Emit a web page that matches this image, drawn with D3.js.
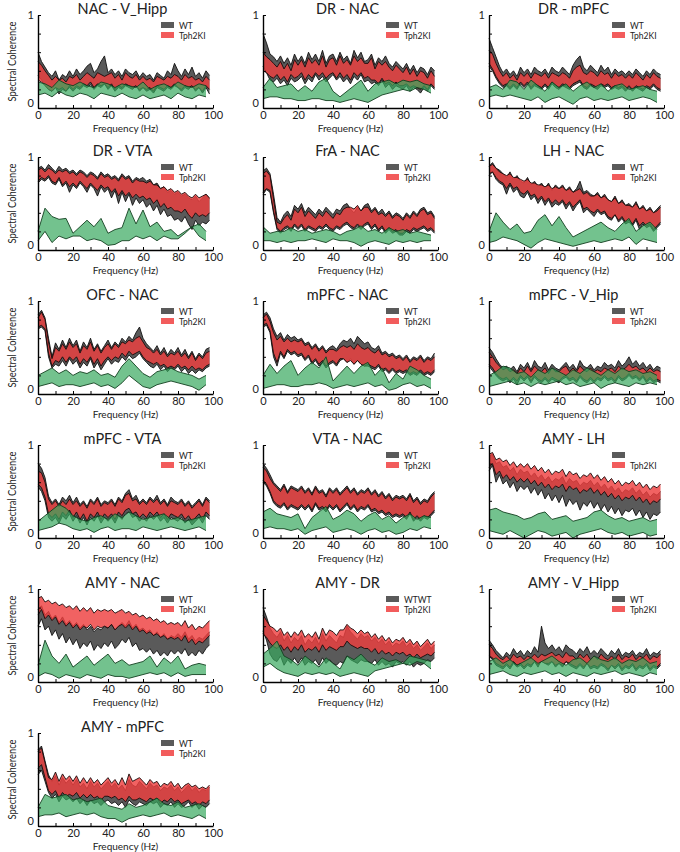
<!DOCTYPE html>
<html><head><meta charset="utf-8">
<script src="https://cdn.jsdelivr.net/npm/d3@7"></script>
<style>body{margin:0;background:#fff} text{font-family:Lato,"Open Sans",sans-serif;fill:#222}</style>
</head><body>
<script>
// ---------------- DATA ----------------
const titles = ["NAC - V_Hipp","DR - NAC","DR - mPFC","DR - VTA","FrA - NAC","LH - NAC",
  "OFC - NAC","mPFC - NAC","mPFC - V_Hip","mPFC - VTA","VTA - NAC","AMY - LH",
  "AMY - NAC","AMY - DR","AMY - V_Hipp","AMY - mPFC"];
const legendWT = ["WT","WT","WT","WT","WT","WT","WT","WT","WT","WT","WT","","WT","WTWT","WT","WT"];
const legendKI = "Tph2KI";
const freqFine = [0,2,4,6,8,10,12,14,16,18,20,22,24,26,28,30,32,34,36,38,40,42,44,46,48,50,52,54,56,58,
  60,62,64,66,68,70,72,74,76,78,80,82,84,86,88,90,92,94,96,98];
const freqCoarse = [0,4,8,12,16,20,24,28,32,36,40,44,48,52,56,60,64,68,72,76,80,84,88,92,96];
const xTicks = [0,10,20,30,40,50,60,70,80,90,100];
const xTickLabels = ["0","","20","","40","","60","","80","","100"];
const yTicks = [0,20,40,60,80,100];
const yTickLabels = ["0","","","","","1"];
const xLabel = "Frequency (Hz)";
const yLabel = "Spectral Coherence";

// coherence values in percent (0-100)
const wtUpper = [
 [60,50,44,38,34,40,30,36,33,40, 34,42,36,40,45,48,38,42,50,56, 38,42,36,40,34,42,38,36,40,33, 38,34,36,30,38,35,32,40,36,48, 40,34,42,36,44,34,38,32,40,35],
 [80,70,58,55,50,56,48,54,46,58, 50,56,48,60,52,58,50,62,48,56, 58,50,60,52,56,48,62,54,60,50, 52,58,46,54,50,56,48,44,50,46, 42,48,40,46,38,44,42,36,44,40],
 [75,65,55,45,38,42,36,40,34,44, 38,42,36,44,40,38,42,36,44,40, 38,44,40,36,46,52,56,44,40,46, 42,38,46,40,44,36,42,38,40,36, 40,36,42,38,34,40,36,42,38,36],
 [88,90,86,92,88,84,90,86,88,84, 86,82,86,84,80,84,82,78,84,80, 82,78,80,76,82,78,80,74,78,76, 78,74,76,70,72,66,68,62,64,60, 62,58,60,56,54,58,52,56,60,55],
 [85,88,82,60,35,30,38,42,36,48, 44,50,40,46,42,38,44,40,46,42, 38,44,42,48,50,44,40,46,42,48, 50,42,46,40,44,38,42,36,40,38, 34,40,36,42,38,44,46,40,42,36],
 [90,94,88,86,82,78,84,76,80,74, 72,78,70,74,68,72,66,72,64,70, 66,70,64,68,62,66,74,62,64,60, 58,62,56,60,54,52,58,50,54,48, 50,46,52,44,48,42,46,40,44,48],
 [85,90,82,60,40,55,48,58,50,60, 52,58,46,56,50,60,48,54,46,52, 58,50,56,52,60,56,62,58,66,72, 60,54,50,46,52,44,50,42,48,44, 50,42,48,40,46,38,44,40,48,50],
 [85,88,82,70,62,66,58,64,60,62, 58,60,54,56,50,54,48,52,46,50, 52,48,54,58,56,60,54,62,58,54, 56,50,48,52,44,46,42,44,40,42, 38,42,36,40,38,42,36,40,38,44],
 [50,45,38,32,28,30,26,30,24,32, 28,34,26,36,30,28,34,26,32,28, 26,30,34,28,32,26,36,30,28,32, 26,30,28,34,30,32,28,36,30,34, 40,32,36,30,34,28,32,26,30,28],
 [80,75,65,45,38,42,36,44,40,46, 38,44,36,40,34,42,38,44,36,40, 38,42,36,44,40,48,52,42,46,38, 42,38,44,40,46,38,42,36,44,40, 38,42,36,40,34,38,42,36,44,40],
 [80,75,68,60,56,52,58,50,56,54, 52,56,50,54,48,56,50,52,46,54, 50,54,48,52,56,50,54,48,52,50, 54,48,52,46,50,44,48,42,46,44, 46,42,48,40,44,38,42,40,46,50],
 [88,90,80,82,76,78,72,76,68,74, 70,72,66,70,64,68,62,66,60,64, 62,66,58,64,60,62,56,60,58,62, 56,60,54,58,52,56,50,54,48,52, 50,54,48,52,46,50,44,48,46,50],
 [78,82,72,76,68,72,64,70,62,66, 60,64,58,62,56,60,54,58,56,60, 58,62,56,60,64,60,66,58,62,56, 58,54,56,50,54,48,52,46,50,48, 52,48,54,46,50,44,48,46,50,54],
 [80,70,58,52,48,54,44,50,42,48, 44,50,40,46,42,48,40,52,44,50, 46,42,50,48,60,54,50,46,52,48, 50,44,48,42,46,40,44,38,42,40, 44,38,42,36,40,34,38,42,36,40],
 [45,40,34,30,26,32,28,36,30,34, 28,34,30,38,32,60,42,36,40,34, 38,32,40,36,34,30,36,32,38,30, 34,30,36,32,28,34,30,36,28,32, 30,34,28,32,30,36,28,32,30,34],
 [82,86,70,55,48,54,44,52,46,50, 44,50,42,46,40,48,42,46,40,44, 48,42,46,40,44,38,50,44,42,48, 44,40,46,42,44,38,42,40,44,38, 42,36,40,44,38,42,36,40,38,42]
];
const wtLower = [
 [35,30,25,20,18,22,15,20,18,22, 18,22,20,24,22,25,20,24,22,26, 20,24,18,22,20,24,22,20,24,18, 22,18,20,16,22,20,18,22,20,24, 22,18,22,20,24,18,22,16,22,15],
 [45,38,30,28,32,26,30,24,32,28, 30,34,26,32,28,36,30,34,28,32, 36,30,34,28,32,26,34,30,36,28, 30,26,28,24,30,22,26,20,24,22, 20,24,18,22,20,16,22,18,24,20],
 [45,40,32,26,22,24,20,24,20,26, 22,26,20,24,22,20,24,20,26,22, 20,24,22,20,24,26,28,22,20,24, 22,20,24,22,24,20,22,20,22,18, 22,18,22,20,18,22,20,24,20,18],
 [72,76,74,78,72,70,76,68,72,62, 70,66,72,68,62,70,66,58,68,62, 66,56,64,50,62,52,60,48,56,50, 54,46,50,42,48,38,44,36,38,32, 34,30,36,28,22,32,26,30,28,32],
 [60,65,62,40,22,18,22,24,20,26, 22,26,20,24,22,20,24,22,26,22, 20,24,22,26,28,24,22,26,22,26, 28,22,26,20,24,18,22,18,20,16, 16,20,18,22,20,22,24,20,22,18],
 [80,84,76,72,70,60,70,62,66,58, 56,62,54,58,50,56,48,54,46,50, 48,52,44,50,42,48,52,40,44,40, 36,42,38,40,34,32,38,30,34,28, 30,26,32,22,28,24,26,20,24,28],
 [70,72,68,40,28,32,30,36,30,38, 32,36,28,34,30,38,28,34,26,32, 38,32,36,34,40,36,42,38,40,44, 38,34,30,28,32,26,30,24,28,26, 30,24,28,22,26,22,26,24,28,30],
 [72,74,66,40,30,44,38,46,42,44, 40,42,36,40,32,36,30,34,28,32, 34,30,36,38,34,38,32,36,32,30, 30,28,26,30,24,26,22,26,22,24, 22,24,20,22,20,24,20,22,20,24],
 [30,25,20,16,14,16,12,16,10,18, 14,18,12,18,14,12,16,12,16,14, 12,16,18,14,16,12,18,14,12,16, 12,16,14,18,14,16,12,18,14,16, 20,16,18,14,18,12,16,12,14,12],
 [55,50,40,22,18,22,16,24,20,26, 18,24,16,22,14,22,18,24,16,22, 18,22,16,24,20,26,28,22,24,18, 22,18,24,20,24,18,22,16,22,20, 18,22,16,20,14,18,22,16,24,20],
 [60,56,48,38,34,32,36,30,34,32, 30,34,30,34,28,36,30,32,28,34, 30,34,28,32,36,30,34,28,32,30, 34,28,30,26,28,24,26,22,24,22, 24,20,26,18,22,18,22,20,24,28],
 [72,78,60,68,58,62,54,60,50,56, 52,56,48,54,46,52,42,48,40,46, 38,46,34,42,36,40,30,38,34,40, 32,38,30,36,28,34,26,32,24,30, 28,32,24,30,22,28,20,26,24,28],
 [60,68,56,60,50,56,46,52,42,48, 40,46,36,42,38,44,34,40,36,42, 38,44,36,40,46,42,48,38,42,34, 36,32,36,30,34,28,32,28,34,30, 34,30,36,28,32,28,34,30,36,40],
 [55,45,30,24,22,28,18,24,20,26, 20,26,18,22,20,24,18,26,20,24, 20,18,22,20,28,24,22,20,24,22, 22,20,24,18,22,18,20,16,22,20, 22,18,22,16,20,18,20,24,22,26],
 [28,24,18,16,14,18,14,20,16,18, 14,18,16,22,16,24,20,18,22,16, 20,16,22,18,16,14,18,14,20,14, 16,14,18,16,12,18,14,18,12,16, 14,18,12,16,14,18,12,16,14,18],
 [55,60,48,36,30,34,26,32,28,30, 26,30,24,28,22,28,24,26,22,26, 28,24,26,22,26,20,28,24,22,26, 24,22,26,24,26,20,24,22,26,20, 24,20,22,26,20,24,18,22,20,24]
];
const kiUpper = [
 [50,46,40,35,30,34,30,32,28,34, 32,36,30,34,38,35,32,38,36,34, 36,38,32,36,30,38,34,32,36,30, 34,30,32,28,34,32,30,34,32,36, 34,30,36,32,34,30,32,28,34,30],
 [60,55,52,48,44,50,42,48,40,52, 46,52,44,54,48,52,46,56,44,52, 54,46,56,48,52,46,56,50,54,48, 48,54,42,50,46,50,44,40,46,42, 38,44,36,42,34,40,38,32,40,34],
 [62,58,48,40,34,38,32,36,30,38, 34,38,32,38,36,34,38,32,38,36, 34,38,36,32,40,44,46,38,36,40, 38,34,40,36,38,32,38,34,36,32, 36,32,38,34,30,36,32,38,34,32],
 [86,88,84,88,86,82,86,84,86,82, 84,80,84,82,78,82,80,76,82,78, 80,76,78,74,80,76,78,72,76,74, 74,72,74,70,70,66,68,64,66,62, 64,60,62,58,56,60,56,58,60,56],
 [82,85,80,55,30,28,34,38,32,44, 40,46,36,42,38,34,40,36,42,38, 34,40,38,44,46,46,44,48,42,46, 46,40,44,38,40,36,40,34,38,36, 32,38,34,40,36,42,44,38,40,34],
 [90,92,88,84,82,80,82,78,78,76, 74,76,72,72,70,70,68,70,66,68, 66,68,64,66,62,64,66,60,62,58, 58,60,56,58,54,52,56,50,52,48, 48,46,50,44,46,42,44,40,42,46],
 [82,88,80,56,38,50,46,54,48,56, 50,54,44,52,48,56,46,52,44,50, 54,48,54,50,56,54,58,56,60,62, 56,50,48,44,48,42,46,40,44,42, 46,40,44,38,44,36,42,38,44,46],
 [82,86,78,66,58,62,56,60,56,58, 56,58,52,54,48,52,46,50,44,48, 48,46,50,52,50,52,48,54,50,48, 50,46,44,48,42,44,40,42,38,40, 36,40,34,38,36,40,34,38,36,40],
 [45,40,34,30,26,28,24,26,22,28, 24,30,24,30,26,24,28,22,28,24, 24,28,30,24,28,24,30,26,24,28, 24,26,24,28,26,28,24,30,26,28, 32,28,30,26,28,24,28,24,26,24],
 [72,70,60,42,36,40,34,40,36,42, 36,40,34,38,32,40,36,42,34,38, 36,40,34,42,38,46,48,40,42,36, 40,36,42,38,42,36,40,34,40,38, 36,40,34,38,32,36,40,34,42,38],
 [76,72,64,58,54,50,56,48,54,52, 50,54,48,52,46,54,48,50,44,52, 48,52,46,50,54,48,52,46,50,48, 52,46,50,44,48,42,46,40,44,42, 44,40,46,38,42,36,40,38,44,48],
 [90,92,84,86,82,84,78,82,76,80, 76,80,74,78,72,76,70,74,68,72, 70,74,66,72,68,70,64,68,66,70, 64,68,62,66,60,64,58,62,56,60, 58,62,56,60,54,58,52,56,54,58],
 [90,92,86,88,84,86,82,84,80,82, 78,82,76,80,76,80,74,78,76,78, 76,78,74,76,78,74,76,72,74,70, 72,68,70,66,68,64,66,62,64,62, 64,60,66,58,62,56,60,58,62,66],
 [72,66,60,58,54,58,50,54,48,54, 50,56,48,52,48,54,46,58,50,56, 54,50,56,56,62,58,56,52,56,52, 54,48,52,46,50,44,48,42,46,44, 48,42,46,40,44,38,42,46,40,44],
 [40,36,30,26,24,28,24,30,26,28, 24,28,26,30,26,30,28,30,32,28, 30,26,32,28,28,24,30,26,30,24, 28,24,30,26,24,28,24,30,24,28, 26,30,24,28,26,30,24,28,26,30],
 [80,84,68,52,50,58,48,56,50,54, 48,54,46,52,46,52,46,50,44,48, 52,46,50,44,52,44,56,48,50,52, 48,44,50,46,48,42,46,44,48,42, 46,40,44,46,42,44,40,42,40,44]
];
const kiLower = [
 [30,28,24,20,18,22,20,22,18,24, 20,24,22,26,24,28,22,26,24,26, 22,26,20,24,22,26,24,22,24,20, 22,20,22,18,24,22,20,24,22,26, 22,20,24,22,24,20,22,18,24,20],
 [40,38,34,32,36,30,34,28,36,32, 34,38,30,36,32,38,34,38,32,36, 38,32,38,32,36,30,38,34,38,32, 34,30,30,26,32,26,28,24,28,24, 24,26,22,24,22,20,24,20,26,22],
 [48,42,34,28,24,26,22,26,22,28, 24,28,22,26,24,22,26,22,28,24, 22,26,24,22,26,28,30,24,22,26, 24,22,26,24,26,22,24,22,24,20, 24,20,24,22,20,24,22,26,22,20],
 [74,78,76,80,74,72,78,70,74,68, 72,68,74,70,66,72,68,64,70,66, 68,62,66,58,64,58,62,56,60,56, 58,54,56,50,54,46,50,44,46,42, 42,40,44,38,34,40,36,38,36,40],
 [62,66,64,42,24,20,24,26,22,28, 24,28,22,26,24,22,26,24,28,24, 22,26,24,28,30,26,24,28,24,28, 30,24,28,22,26,20,24,20,22,18, 18,22,20,24,22,24,26,22,24,20],
 [82,84,78,74,72,66,72,66,68,62, 60,64,58,60,54,58,52,56,50,54, 50,54,48,52,46,50,54,44,46,42, 40,44,40,42,36,34,38,32,36,30, 32,28,34,26,30,26,28,22,26,30],
 [72,74,70,44,30,36,34,40,34,40, 36,40,32,38,34,40,32,38,30,36, 40,36,40,38,44,40,46,42,44,46, 40,36,34,32,34,30,32,28,30,28, 32,28,30,26,30,26,28,26,30,32],
 [74,76,68,44,34,46,40,48,44,46, 42,44,38,42,34,38,32,36,30,34, 36,32,38,38,34,36,32,36,32,30, 32,30,28,32,26,28,24,28,24,26, 24,26,22,24,22,26,22,24,22,26],
 [32,28,22,18,16,18,14,18,14,20, 16,20,14,20,16,14,18,14,18,16, 14,18,20,16,18,14,20,16,14,18, 14,18,16,20,16,18,14,20,16,18, 22,18,20,16,20,14,18,14,16,14],
 [58,54,44,26,22,26,20,28,24,30, 22,28,20,26,18,26,22,28,20,26, 22,26,20,28,24,30,32,26,28,22, 26,22,28,24,28,22,26,20,26,24, 22,26,20,24,18,22,26,20,28,24],
 [62,58,50,40,36,34,38,32,36,34, 32,36,32,36,30,38,32,34,30,36, 32,36,30,34,38,32,36,30,34,32, 36,30,32,28,30,26,28,24,26,24, 26,22,28,20,24,20,24,22,26,30],
 [76,80,68,72,64,68,62,66,60,64, 60,64,58,62,56,60,54,58,52,56, 54,58,50,56,52,54,48,52,50,54, 48,52,46,50,44,48,42,46,40,44, 42,46,40,44,38,42,36,40,38,42],
 [72,78,68,72,66,70,62,66,60,64, 58,62,56,60,58,62,56,60,58,60, 58,62,56,60,62,58,62,56,60,54, 56,52,54,50,52,48,50,46,48,46, 48,44,50,42,46,40,44,42,46,50],
 [52,48,42,38,36,40,34,38,32,38, 34,40,32,36,34,38,32,40,34,38, 36,34,38,38,44,40,38,36,38,36, 36,32,36,30,34,30,32,28,32,30, 32,28,30,26,30,26,28,30,28,32],
 [28,26,20,18,16,20,16,22,18,20, 16,20,18,22,18,22,20,20,22,18, 20,18,22,20,18,16,20,16,20,16, 18,16,20,18,14,18,16,20,14,18, 16,20,14,18,16,20,14,18,16,20],
 [62,66,52,38,34,38,30,36,32,34, 32,36,30,34,30,34,30,32,28,32, 32,30,32,28,30,26,32,28,28,30, 28,26,30,28,30,24,28,26,30,26, 28,24,26,28,24,26,22,26,24,28]
];
const shufUpper = [
 [28,26,22,30,26,24,28,24,22,28,26,22,26,24,22,28,20,24,26,22,28,24,22,26,24],
 [22,32,22,24,26,18,24,18,28,32,18,12,18,24,30,18,26,28,30,26,30,28,30,26,24],
 [22,25,20,30,28,20,30,24,18,28,22,26,18,24,28,22,26,18,24,26,20,22,24,20,18],
 [20,45,36,33,34,18,25,32,25,34,18,22,24,45,28,43,25,30,20,22,15,20,25,28,20],
 [25,18,20,20,24,20,22,18,20,22,20,16,20,22,26,20,22,18,24,20,22,18,20,18,16],
 [20,40,30,22,28,18,20,32,38,26,36,24,14,18,22,26,30,24,20,28,34,20,26,30,22],
 [20,24,28,22,26,20,24,22,26,20,22,18,30,38,30,22,18,24,26,28,24,22,20,16,20],
 [20,32,22,30,36,20,28,34,28,40,14,22,30,22,30,34,20,28,12,22,16,30,26,20,16],
 [20,24,30,28,22,24,18,26,22,28,24,20,26,22,28,24,20,26,22,28,24,26,22,24,20],
 [18,24,30,36,32,24,20,18,22,24,20,26,22,28,24,20,22,24,26,20,22,18,20,22,24],
 [28,32,26,24,22,26,10,22,28,34,20,24,30,26,18,24,28,20,24,16,22,26,20,24,22],
 [30,32,28,26,24,20,22,26,28,20,22,24,18,20,22,28,30,24,20,22,18,20,22,18,20],
 [18,45,28,20,30,16,22,28,18,24,30,20,24,18,20,22,28,16,26,20,28,14,18,20,18],
 [30,36,44,28,24,18,28,22,16,26,20,14,28,24,30,22,18,26,22,24,20,28,26,24,22],
 [22,26,20,24,18,22,26,20,24,28,22,18,24,26,20,28,24,22,26,20,24,22,26,20,22],
 [20,34,30,32,34,28,30,26,28,30,22,20,18,24,20,22,26,30,24,22,26,20,22,24,20]
];
const shufLower = [
 [14,16,12,18,14,12,16,14,10,16,14,12,16,12,10,14,10,12,14,10,16,12,10,14,12],
 [10,12,12,10,10,8,8,10,10,8,8,6,8,10,8,6,10,14,16,18,20,18,22,20,16],
 [12,14,12,14,12,10,8,12,6,10,12,8,4,10,12,8,10,8,10,12,8,10,12,10,6],
 [10,20,8,15,12,15,15,10,12,10,5,6,10,10,15,12,15,10,15,12,12,18,25,15,10],
 [10,10,8,10,8,10,10,12,10,8,12,10,10,8,4,8,10,8,6,10,8,10,8,10,10],
 [8,10,14,12,10,6,2,8,12,10,8,6,4,6,8,10,8,10,12,10,14,6,12,10,8],
 [8,10,12,8,10,10,8,10,12,8,10,6,12,20,14,8,6,10,12,14,12,10,8,4,10],
 [6,8,10,10,8,8,10,10,12,10,6,8,10,8,10,12,8,10,4,6,10,12,8,10,6],
 [8,10,12,14,10,12,8,12,10,12,14,10,12,8,10,12,6,10,12,10,8,12,10,12,10],
 [8,10,12,16,14,10,8,10,6,10,12,8,10,10,8,12,10,8,10,12,10,8,10,12,8],
 [10,12,10,10,8,10,4,8,10,12,6,8,10,8,4,8,10,6,8,4,6,10,8,12,10],
 [8,6,4,8,4,0,4,8,6,2,4,6,0,4,6,8,10,6,4,6,2,4,6,2,4],
 [6,10,8,4,8,6,4,8,6,4,8,6,6,4,6,8,10,8,10,6,10,6,8,8,8],
 [16,20,14,10,8,6,10,8,10,8,10,6,8,10,8,6,12,14,16,18,20,18,22,20,14],
 [8,10,12,8,6,10,8,10,12,8,10,6,10,8,6,10,8,10,12,8,10,8,6,10,8],
 [10,12,12,14,10,12,14,12,14,10,8,8,4,8,10,12,10,12,14,10,12,10,8,12,8]
];

// ---------------- DRAW ----------------
const W = 680, H = 852;
const colLeft = [38, 263, 489];
const rowTop = [15, 157, 301, 445, 589, 733];
const pw = 175, ph = 93;

const svg = d3.select("body").append("svg").attr("width", W).attr("height", H);
const x = d3.scaleLinear().domain([0, 100]).range([0, pw]);
const y = d3.scaleLinear().domain([0, 100]).range([ph, 0]);

function band(g, fx, lo, hi, fill, op, stroke) {
  const area = d3.area().x((d, j) => x(fx[j])).y0((d, j) => y(lo[j])).y1((d, j) => y(hi[j]));
  g.append("path").datum(fx).attr("d", area).attr("fill", fill).attr("fill-opacity", op).attr("stroke", "none");
  const line = arr => d3.line().x((d, j) => x(fx[j])).y((d, j) => y(arr[j]));
  [lo, hi].forEach(arr => g.append("path").datum(fx).attr("d", line(arr)).attr("fill", "none")
    .attr("stroke", stroke).attr("stroke-width", 0.9).attr("stroke-linejoin", "round"));
}

titles.forEach((t, i) => {
  const c = i % 3, r = Math.floor(i / 3);
  const g = svg.append("g").attr("transform", `translate(${colLeft[c]},${rowTop[r]})`);

  band(g, freqFine, wtLower[i], wtUpper[i], "#5a5a5a", 1, "#111");
  band(g, freqFine, kiLower[i], kiUpper[i], "#ee4040", 0.82, "#1a0a0a");
  band(g, freqCoarse, shufLower[i], shufUpper[i], "#38a85e", 0.7, "#12401f");

  // axes
  const ya = g.append("g").call(d3.axisLeft(y).tickValues(yTicks).tickSize(-3).tickSizeOuter(0)
    .tickFormat((d, k) => yTickLabels[k]));
  const xa = g.append("g").attr("transform", `translate(0,${ph})`)
    .call(d3.axisBottom(x).tickValues(xTicks).tickSize(-3).tickSizeOuter(0)
    .tickFormat((d, k) => xTickLabels[k]));
  [ya, xa].forEach(a => {
    a.select(".domain").attr("stroke", "#000").attr("stroke-width", 1.4);
    a.selectAll(".tick line").attr("stroke", "#000").attr("stroke-width", 1);
    a.selectAll("text").style("font-family", "Lato, sans-serif").style("font-size", "11px").attr("fill", "#222");
  });
  ya.selectAll("text").attr("x", -4);
  ya.selectAll(".tick").filter(d => d === 0).select("text").attr("dy", "-0.1em");
  xa.selectAll("text").attr("y", 3);

  // title
  g.append("text").attr("x", pw / 2 - 3).attr("y", -1).attr("text-anchor", "middle")
    .style("font-size", "14.5px").text(t);
  // x label
  g.append("text").attr("x", pw / 2).attr("y", ph + 24).attr("text-anchor", "middle")
    .style("font-size", "10px").text(xLabel);
  // y label
  if (c === 0) {
    svg.append("text").attr("transform", `translate(16,${rowTop[r] + ph / 2}) rotate(-90)`)
      .attr("text-anchor", "middle").style("font-size", "12px")
      .attr("textLength", 80).attr("lengthAdjust", "spacingAndGlyphs").text(yLabel);
  }
  // legend
  const lg = g.append("g").attr("transform", "translate(123,7)");
  lg.append("rect").attr("width", 13).attr("height", 6).attr("fill", "#5a5a5a");
  lg.append("rect").attr("y", 10).attr("width", 13).attr("height", 6).attr("fill", "#f25c5c");
  lg.append("text").attr("x", 18).attr("y", 6.5).style("font-size", "8.5px").text(legendWT[i]);
  lg.append("text").attr("x", 18).attr("y", 17).style("font-size", "8.5px").text(legendKI);
});
</script>
</body></html>
